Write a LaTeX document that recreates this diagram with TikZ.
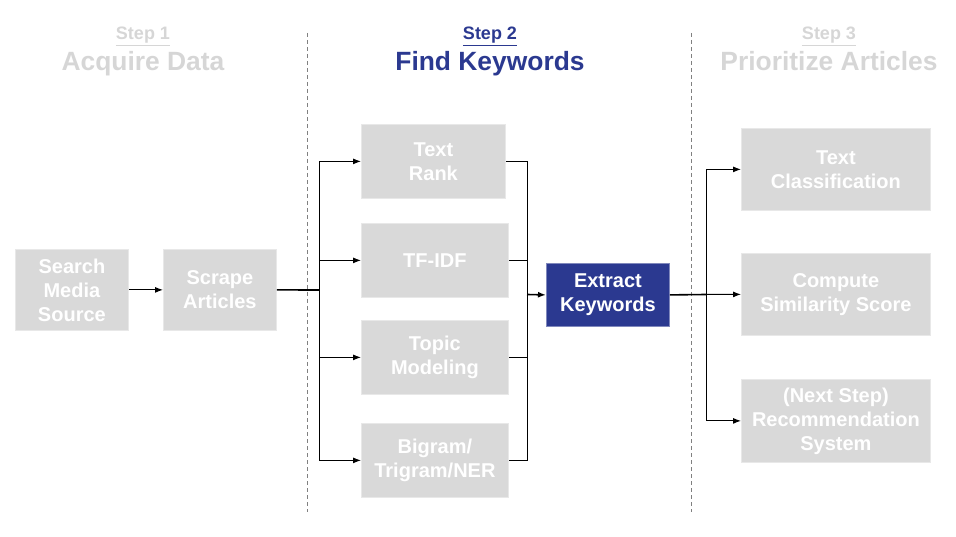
\documentclass[tikz,border=0pt]{standalone}
\usepackage{fontspec}
\setmainfont{Liberation Sans}
\usetikzlibrary{arrows.meta}
\definecolor{boxgray}{HTML}{D9D9D9}
\definecolor{hdrgray}{HTML}{D6D6D6}
\definecolor{navy}{HTML}{2B3990}
\tikzset{
  gbox/.style={fill=boxgray, draw=boxgray!60!white, line width=0.8pt, text=white, font=\fontsize{20}{24}\selectfont\bfseries, align=center, inner sep=0pt, anchor=north west},
  bbox/.style={fill=navy, draw=navy!60!white, line width=0.8pt, text=white, font=\fontsize{20}{24}\selectfont\bfseries, align=center, inner sep=0pt, anchor=north west},
  conn/.style={line width=1pt, draw=black},
  arr/.style={line width=1pt, -{Latex[length=8pt,width=6pt]}},
  sep/.style={draw=gray, line width=0.8pt, dash pattern=on 4pt off 3pt},
  steplbl/.style={font=\fontsize{18}{20}\selectfont\bfseries, anchor=base},
  ttl/.style={font=\fontsize{26.4}{30}\selectfont\bfseries, anchor=base}
}
\begin{document}
\begin{tikzpicture}[x=1pt,y=-1pt]
\useasboundingbox (0,0) rectangle (956,537);
% separators
\draw[sep] (307.5,33) -- (307.5,512);
\draw[sep] (691.5,33) -- (691.5,512);
% headers
\node[steplbl, text=hdrgray] (s1) at (143,40) {\underline{Step 1}};
\node[ttl, text=hdrgray] (t1) at (143,70.5) {Acquire Data};
\node[steplbl, text=navy] (s2) at (490,40) {\underline{Step 2}};
\node[ttl, text=navy] (t2) at (490,70.5) {Find Keywords};
\node[steplbl, text=hdrgray] (s3) at (829,40) {\underline{Step 3}};
\node[ttl, text=hdrgray] (t3) at (829,70.5) {Prioritize Articles};
% step 1 boxes
\node[gbox, minimum width=113pt, minimum height=81pt] (search) at (15,249) {Search\\Media\\Source};
\node[gbox, minimum width=113pt, minimum height=81pt] (scrape) at (163,249) {Scrape\\Articles};
% step 2 boxes
\node[gbox, minimum width=144pt, minimum height=74pt] (trank) at (361,124) {Text\\Rank};
\node[gbox, minimum width=147pt, minimum height=74pt] (tfidf) at (361,223) {TF-IDF};
\node[gbox, minimum width=147pt, minimum height=74pt] (topic) at (361,320) {Topic\\Modeling};
\node[gbox, minimum width=147pt, minimum height=74pt] (bigram) at (361,423) {Bigram/\\Trigram/NER};
\node[bbox, minimum width=123pt, minimum height=63pt] (extract) at (546,263) {Extract\\Keywords};
% step 3 boxes
\node[gbox, minimum width=189pt, minimum height=82pt] (tclass) at (741,128) {Text\\Classification};
\node[gbox, minimum width=189pt, minimum height=82pt] (csim) at (741,253) {Compute\\Similarity Score};
\node[gbox, minimum width=189pt, minimum height=83pt] (recsys) at (741,379) {(Next Step)\\Recommendation\\System};
% junction coordinates
\coordinate (lb) at (319,290);
\coordinate (rb) at (527,294.5);
\coordinate (ob) at (706,294.5);
% connectors
\draw[arr] (search.east) -- (scrape.east -| scrape.west);
\draw[conn, line width=1.6pt] (scrape.east) -- (lb);
\draw[conn] (lb |- trank.west) -- (lb |- bigram.west);
\draw[arr] (lb |- trank.west) -- (trank.west);
\draw[arr] (lb |- tfidf.west) -- (tfidf.west);
\draw[arr] (lb |- topic.west) -- (topic.west);
\draw[arr] (lb |- bigram.west) -- (bigram.west);
\draw[conn] (trank.east) -- (rb |- trank.east) -- (rb |- bigram.east) -- (bigram.east);
\draw[conn] (tfidf.east) -- (rb |- tfidf.east);
\draw[conn] (topic.east) -- (rb |- topic.east);
\draw[arr, line width=1.6pt] (rb) -- (extract.west);
\draw[conn, line width=1.6pt] (extract.east) -- (ob);
\draw[conn] (ob |- tclass.west) -- (ob |- recsys.west);
\draw[arr] (ob |- tclass.west) -- (tclass.west);
\draw[arr] (ob) -- (csim.west);
\draw[arr] (ob |- recsys.west) -- (recsys.west);
\end{tikzpicture}
\end{document}
